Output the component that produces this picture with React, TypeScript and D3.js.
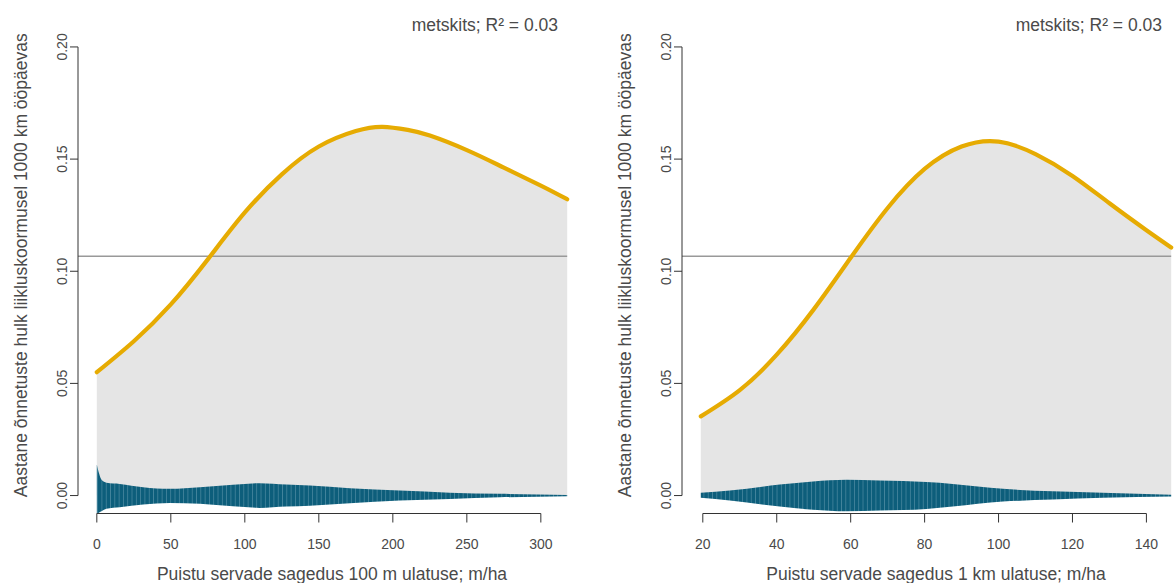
import React from "react";
import * as d3 from "d3";

// ---------- data ----------
// left panel: 100 m
const leftCurveX = [0, 25, 50, 75, 100, 125, 150, 175, 193, 210, 225, 250, 275, 300, 317.8];
const leftCurveY = [0.055, 0.0688, 0.0852, 0.1053, 0.1262, 0.1432, 0.1556, 0.1625, 0.1644, 0.163, 0.1605, 0.154, 0.1462, 0.1382, 0.1321];
const leftBandX = [0, 1.6, 3.2, 6.5, 15.5, 31.3, 49.3, 69.6, 92, 110, 128, 144, 171, 204.7, 238.5, 272.3, 317.8];
const leftBandUp = [0.0138, 0.0097, 0.007, 0.0057, 0.0052, 0.0037, 0.003, 0.0037, 0.0048, 0.0055, 0.0049, 0.0045, 0.0033, 0.0022, 0.0013, 0.0008, 0.0003];
const leftBandLo = [-0.0082, -0.0075, -0.007, -0.0059, -0.0052, -0.004, -0.0033, -0.0037, -0.0048, -0.0055, -0.0049, -0.0045, -0.0034, -0.0022, -0.0015, -0.0008, -0.0003];
const leftTicks = [0, 50, 100, 150, 200, 250, 300];

// right panel: 1 km
const rightCurveX = [19.46, 30, 40, 50, 60, 70, 80, 90, 100, 110, 120, 130, 140, 146.7];
const rightCurveY = [0.0353, 0.047, 0.0628, 0.083, 0.106, 0.1282, 0.1456, 0.1556, 0.1578, 0.1522, 0.1425, 0.1303, 0.1183, 0.1106];
const rightBandX = [19.46, 27.3, 40.8, 49.8, 58.8, 67.8, 80.5, 87.6, 101.2, 114.7, 128.2, 146.7];
const rightBandUp = [0.0012, 0.0022, 0.0049, 0.0063, 0.007, 0.0067, 0.006, 0.0052, 0.003, 0.0019, 0.0012, 0.0004];
const rightBandLo = [-0.001, -0.0022, -0.0049, -0.0063, -0.007, -0.0067, -0.006, -0.0049, -0.0027, -0.0018, -0.001, -0.0004];
const rightTicks = [20, 40, 60, 80, 100, 120, 140];

const yTicks = [0, 0.05, 0.1, 0.15, 0.2];
const yTickLabels = ["0.00", "0.05", "0.10", "0.15", "0.20"];
const refLine = 0.1067;
const yLimits = [0, 0.2];

const titleText = "metskits; R² = 0.03";
const yTitle = "Aastane õnnetuste hulk liikluskoormusel 1000 km ööpäevas";
const leftXTitle = "Puistu servade sagedus 100 m ulatuse; m/ha";
const rightXTitle = "Puistu servade sagedus 1 km ulatuse; m/ha";

// ---------- styling / layout ----------
const W = 1174;
const H = 583;
const FONT = "'Liberation Sans', Arial, Helvetica, sans-serif";
const TXT = "#4a4a4a";
const AX = "#333";
const YELLOW = "#e6ab02";
const GREY = "#e5e5e5";
const TEAL = "#0d5e7b";
const TEAL_LIGHT = "#5a93a8";

type PanelProps = {
  left: number;
  right: number;
  curveX: number[];
  curveY: number[];
  bandX: number[];
  bandUp: number[];
  bandLo: number[];
  ticks: number[];
  xTitle: string;
  id: string;
};

function ext(lo: number, hi: number): [number, number] {
  const d = (hi - lo) * 0.04;
  return [lo - d, hi + d];
}

function Panel(p: PanelProps) {
  const top = 29;
  const bottom = 513.5;
  const xMin = d3.min(p.curveX) as number;
  const xMax = d3.max(p.curveX) as number;
  const x = d3.scaleLinear().domain(ext(xMin, xMax)).range([p.left, p.right]);
  const y = d3.scaleLinear().domain(ext(yLimits[0], yLimits[1])).range([bottom, top]);
  const smooth = d3.curveNatural;

  const curvePts = p.curveX.map((v, i) => [v, p.curveY[i]] as [number, number]);
  const line = d3
    .line<[number, number]>()
    .x((d) => x(d[0]))
    .y((d) => y(d[1]))
    .curve(smooth);
  const greyArea = d3
    .area<[number, number]>()
    .x((d) => x(d[0]))
    .y0(y(0))
    .y1((d) => y(d[1]))
    .curve(smooth);

  const bandPts = p.bandX.map((v, i) => ({ x: v, u: p.bandUp[i], l: p.bandLo[i] }));
  const band = d3
    .area<{ x: number; u: number; l: number }>()
    .x((d) => x(d.x))
    .y0((d) => y(d.l))
    .y1((d) => y(d.u))
    .curve(d3.curveMonotoneX);

  const axisX0 = x(p.ticks[0]);
  const axisX1 = x(p.ticks[p.ticks.length - 1]);
  const yAxisX = p.left;
  const centerX = (p.left + p.right) / 2;
  const centerY = (top + bottom) / 2;

  return (
    <g>
      <defs>
        <pattern id={"stripes" + p.id} width={4.3} height={10} patternUnits="userSpaceOnUse">
          <rect width={4.3} height={10} fill={TEAL} />
          <rect x={2.6} width={0.8} height={10} fill={TEAL_LIGHT} opacity={0.75} />
        </pattern>
      </defs>
      <path d={greyArea(curvePts) || ""} fill={GREY} />
      <path d={band(bandPts) || ""} fill={`url(#stripes${p.id})`} />
      <line x1={p.left} x2={x(xMax)} y1={y(refLine)} y2={y(refLine)} stroke="#999" strokeWidth={1.6} />
      <path d={line(curvePts) || ""} fill="none" stroke={YELLOW} strokeWidth={4.2} strokeLinecap="round" />

      {/* x axis */}
      <line x1={axisX0} x2={axisX1} y1={bottom} y2={bottom} stroke={AX} strokeWidth={1} />
      {p.ticks.map((t) => (
        <g key={t}>
          <line x1={x(t)} x2={x(t)} y1={bottom} y2={bottom + 9} stroke={AX} strokeWidth={1} />
          <text x={x(t)} y={549} textAnchor="middle" fontSize={14} fill={TXT} fontFamily={FONT}>
            {t}
          </text>
        </g>
      ))}
      <text x={centerX} y={580} textAnchor="middle" fontSize={17.5} fill={TXT} fontFamily={FONT}>
        {p.xTitle}
      </text>

      {/* y axis */}
      <line x1={yAxisX} x2={yAxisX} y1={y(yTicks[0])} y2={y(yTicks[yTicks.length - 1])} stroke={AX} strokeWidth={1} />
      {yTicks.map((t, i) => (
        <g key={t}>
          <line x1={yAxisX - 8} x2={yAxisX} y1={y(t)} y2={y(t)} stroke={AX} strokeWidth={1} />
          <text
            transform={`translate(${yAxisX - 11},${y(t)}) rotate(-90)`}
            textAnchor="middle"
            fontSize={14}
            fill={TXT}
            fontFamily={FONT}
          >
            {yTickLabels[i]}
          </text>
        </g>
      ))}
      <text
        transform={`translate(${yAxisX - 51.5},${centerY - 6}) rotate(-90)`}
        textAnchor="middle"
        fontSize={17.5}
        fill={TXT}
        fontFamily={FONT}
      >
        {yTitle}
      </text>

      <text x={p.right - 28} y={31} textAnchor="end" fontSize={17.5} fill={TXT} fontFamily={FONT}>
        {titleText}
      </text>
    </g>
  );
}

export default function App() {
  return (
    <svg
      width={W}
      height={H}
      style={{ position: "absolute", left: 0, top: 0, background: "#fff" }}
    >
      <rect width={W} height={H} fill="#fff" />
      <Panel
        id="L"
        left={78}
        right={586}
        curveX={leftCurveX}
        curveY={leftCurveY}
        bandX={leftBandX}
        bandUp={leftBandUp}
        bandLo={leftBandLo}
        ticks={leftTicks}
        xTitle={leftXTitle}
      />
      <Panel
        id="R"
        left={682}
        right={1190}
        curveX={rightCurveX}
        curveY={rightCurveY}
        bandX={rightBandX}
        bandUp={rightBandUp}
        bandLo={rightBandLo}
        ticks={rightTicks}
        xTitle={rightXTitle}
      />
    </svg>
  );
}
